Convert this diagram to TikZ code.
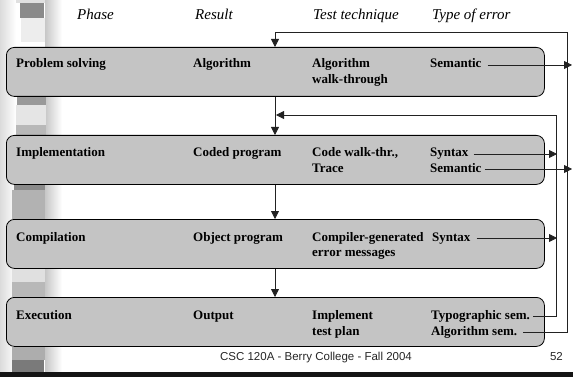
\documentclass[tikz,border=0pt]{standalone}
\usepackage{fontspec}
\setmainfont{Liberation Serif}
\newfontfamily\arialf{Liberation Sans}
\usetikzlibrary{arrows.meta,calc}
\definecolor{boxfill}{HTML}{C4C4C4}
\definecolor{lncol}{HTML}{222222}
\begin{document}
\begin{tikzpicture}[x=1pt,y=-1pt,
  stagebox/.style={draw=black,line width=0.8pt,fill=boxfill,rounded corners=8pt,
    minimum width=538pt,minimum height=49pt,anchor=north west,inner sep=0pt},
  txt/.style={anchor=base west,inner sep=0pt,text height=8pt,text depth=2pt,
    font=\bfseries\fontsize{13}{16}\selectfont},
  hdr/.style={anchor=base west,inner sep=0pt,font=\itshape\fontsize{15}{17}\selectfont},
  ln/.style={draw=lncol,line width=0.8pt},
  arr/.style={ln,-{Triangle[length=8pt,width=8pt]}},
  blk/.style={draw=none}]
\useasboundingbox (0,0) rectangle (573,377);
% background strip
\shade[left color=black!14,right color=white] (0,0) rectangle (16,372);
\shade[left color=black!22,right color=white] (45,0) rectangle (62,372);
\fill[blk,fill=black!12] (16,0) rectangle (45,3);
\fill[blk,fill=black!46] (20,3) rectangle (44,18);
\fill[blk,fill=black!7] (21,18) rectangle (45,42);
\fill[blk,fill=black!40] (17,96) rectangle (46,105);
\fill[blk,fill=black!10] (16,105) rectangle (46,125);
\fill[blk,fill=black!28] (16,125) rectangle (46,135);
\fill[blk,fill=black!46] (14,184) rectangle (45,190);
\fill[blk,fill=black!30] (12,190) rectangle (45,219);
\fill[blk,fill=black!12] (12,268) rectangle (45,282);
\fill[blk,fill=black!28] (12,282) rectangle (45,297);
\fill[blk,fill=black!32] (12,347) rectangle (45,360);
\fill[blk,fill=black!52] (12,360) rectangle (44,372);
\fill[black!92] (0,372) rectangle (573,377);
% headers
\node[hdr] (h1) at (77,20) {Phase};
\node[hdr] (h2) at (195,20) {Result};
\node[hdr] (h3) at (313,20) {Test technique};
\node[hdr] (h4) at (432,20) {Type of error};
% boxes
\node[stagebox] (b1) at (6,47) {};
\node[stagebox] (b2) at (6,135) {};
\node[stagebox] (b3) at (6,219) {};
\node[stagebox] (b4) at (6,297) {};
% row 1
\node[txt] (p1) at (16,68) {Problem solving};
\node[txt] (r1) at (193,68) {Algorithm};
\node[txt] (t1a) at (312,68) {Algorithm};
\node[txt] (t1b) at (312,84) {walk-through};
\node[txt] (e1) at (430,68) {Semantic};
% row 2
\node[txt] (p2) at (16,157) {Implementation};
\node[txt] (r2) at (193,157) {Coded program};
\node[txt] (t2a) at (312,157) {Code walk-thr.,};
\node[txt] (t2b) at (312,172) {Trace};
\node[txt] (e2a) at (430,157) {Syntax};
\node[txt] (e2b) at (430,172) {Semantic};
% row 3
\node[txt] (p3) at (16,241) {Compilation};
\node[txt] (r3) at (193,241) {Object program};
\node[txt] (t3a) at (312,241) {Compiler-generated};
\node[txt] (t3b) at (312,256) {error messages};
\node[txt] (e3) at (432,241) {Syntax};
% row 4
\node[txt] (p4) at (16,319) {Execution};
\node[txt] (r4) at (193,319) {Output};
\node[txt] (t4a) at (312,319) {Implement};
\node[txt] (t4b) at (312,335) {test plan};
\node[txt] (e4a) at (431,319) {Typographic sem.};
\node[txt] (e4b) at (431,335) {Algorithm sem.};
% footer
\node[anchor=base,inner sep=0pt,font=\arialf\fontsize{11.5}{13}\selectfont,text=black!85] (foot) at (316,360) {CSC 120A - Berry College - Fall 2004};
\node[anchor=base east,inner sep=0pt,font=\arialf\fontsize{11.5}{13}\selectfont,text=black!85] (pg) at (563,360) {52};
% routing coordinates
\coordinate (vx) at (275,0);
\coordinate (oR) at (567,0);
\coordinate (iR) at (556,0);
\coordinate (tipO) at (572,0);
\coordinate (tipI) at (557,0);
\coordinate (top) at (275,32);
\coordinate (fb) at (276,115);
% vertical flow
\draw[arr] (b1.south -| vx) -- (b2.north -| vx);
\draw[arr] (b2.south -| vx) -- (b3.north -| vx);
\draw[arr] (b3.south -| vx) -- (b4.north -| vx);
% error arrows
\draw[arr] ([xshift=6pt]e1.east) -- (tipO |- e1.east);
\draw[arr] ([xshift=5pt]e2a.east) -- (tipI |- e2a.east);
\draw[arr] ([xshift=3pt]e2b.east) -- (tipO |- e2b.east);
\draw[arr] ([xshift=6pt]e3.east) -- (tipI |- e3.east);
% feedback loops
\draw[arr] ([xshift=3pt]e4a.east) -- (iR |- e4a.east) -- (iR |- fb) -- (fb);
\draw[arr] ([xshift=6pt]e4b.east) -- (oR |- e4b.east) -- (oR |- top) -- (top) -- (top |- b1.north);
\end{tikzpicture}
\end{document}
